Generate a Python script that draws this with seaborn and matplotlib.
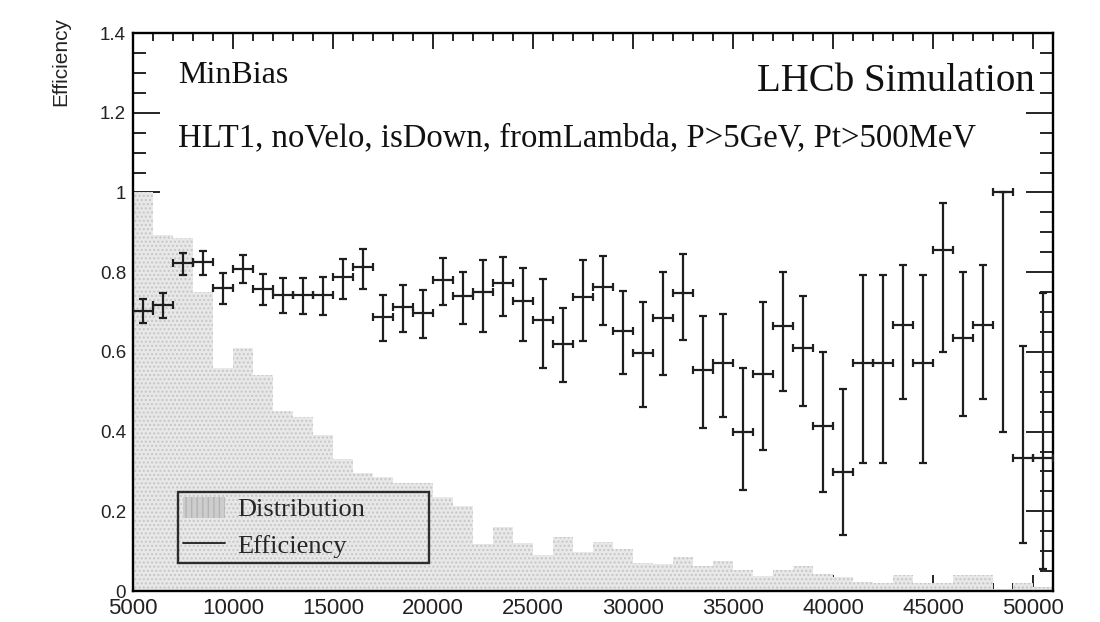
import numpy as np
import pandas as pd
import matplotlib
matplotlib.use("Agg")
import matplotlib.pyplot as plt
from matplotlib.patches import Patch
from matplotlib.lines import Line2D
from matplotlib.ticker import MultipleLocator, FuncFormatter
import seaborn as sns

# Momentum binning (MeV), 1 GeV wide bins
bin_edges = list(range(5000, 51001, 1000))
bin_centers = [e + 500 for e in bin_edges[:-1]]

# Normalised momentum distribution of the selected tracks
distribution = [
    1.000, 0.893, 0.885, 0.751, 0.560, 0.609, 0.542, 0.452, 0.437, 0.391,
    0.330, 0.295, 0.285, 0.270, 0.270, 0.235, 0.213, 0.117, 0.161, 0.121,
    0.090, 0.136, 0.099, 0.124, 0.105, 0.071, 0.068, 0.086, 0.063, 0.075,
    0.053, 0.038, 0.053, 0.063, 0.042, 0.034, 0.023, 0.020, 0.040, 0.020,
    0.020, 0.040, 0.040, 0.005, 0.020, 0.010,
]

# Efficiency per bin with lower / upper bounds of the uncertainty interval
efficiency = [
    0.703, 0.717, 0.822, 0.825, 0.759, 0.809, 0.757, 0.743, 0.743, 0.743,
    0.787, 0.812, 0.687, 0.712, 0.697, 0.780, 0.740, 0.751, 0.774, 0.728,
    0.680, 0.620, 0.738, 0.763, 0.653, 0.598, 0.684, 0.748, 0.554, 0.571,
    0.400, 0.544, 0.665, 0.610, 0.415, 0.298, 0.571, 0.571, 0.667, 0.571,
    0.855, 0.634, 0.667, 1.000, 0.333, 0.333,
]
eff_low = [
    0.673, 0.685, 0.793, 0.794, 0.719, 0.774, 0.717, 0.698, 0.695, 0.692,
    0.732, 0.757, 0.628, 0.649, 0.636, 0.717, 0.670, 0.649, 0.691, 0.627,
    0.559, 0.525, 0.628, 0.667, 0.544, 0.462, 0.543, 0.630, 0.410, 0.437,
    0.253, 0.355, 0.503, 0.465, 0.249, 0.140, 0.322, 0.322, 0.481, 0.322,
    0.600, 0.440, 0.481, 0.398, 0.121, 0.055,
]
eff_high = [
    0.732, 0.748, 0.847, 0.853, 0.797, 0.842, 0.795, 0.785, 0.785, 0.787,
    0.832, 0.857, 0.743, 0.768, 0.755, 0.835, 0.801, 0.830, 0.839, 0.810,
    0.782, 0.709, 0.830, 0.841, 0.753, 0.724, 0.801, 0.845, 0.691, 0.694,
    0.560, 0.724, 0.801, 0.741, 0.599, 0.507, 0.793, 0.793, 0.818, 0.793,
    0.974, 0.800, 0.818, 1.000, 0.615, 0.748,
]

title_left = "MinBias"
title_right = "LHCb Simulation"
selection = "HLT1, noVelo, isDown, fromLambda, P>5GeV, Pt>500MeV"

sns.set_theme(style="ticks")
plt.rcParams["font.family"] = ["Liberation Sans", "DejaVu Sans"]
plt.rcParams["hatch.linewidth"] = 1.0

hist_face = "#e8e8e8"
hist_hatch = "#c6c6c6"
ink = "#1e1e1e"

fig = plt.figure(figsize=(11, 6.22), dpi=100)
ax = fig.add_axes([133 / 1100, 31 / 622, 920 / 1100, 558 / 622])

hist_df = pd.DataFrame({"p": bin_centers, "w": distribution})
sns.histplot(
    data=hist_df, x="p", weights="w", bins=bin_edges, ax=ax,
    element="bars", fill=True, color=hist_face,
    alpha=1.0, linewidth=0, zorder=1,
)
for bar in ax.patches:
    bar.set_hatch("....")
    bar.set_edgecolor(hist_hatch)
    bar.set_linewidth(0)

eff = np.asarray(efficiency)
yerr = np.vstack([eff - np.asarray(eff_low), np.asarray(eff_high) - eff])
ax.errorbar(
    bin_centers, eff, yerr=yerr, xerr=500, fmt="none",
    ecolor=ink, elinewidth=1.6, capsize=3.2, capthick=1.6, zorder=3,
)

ax.set_xlim(5000, 51000)
ax.set_ylim(0, 1.4)
ax.set_xlabel("")
ax.set_ylabel("")

ax.xaxis.set_major_locator(MultipleLocator(5000))
ax.xaxis.set_minor_locator(MultipleLocator(1000))
ax.yaxis.set_major_locator(MultipleLocator(0.2))
ax.yaxis.set_minor_locator(MultipleLocator(0.05))
ax.yaxis.set_major_formatter(FuncFormatter(lambda v, _: f"{v:g}"))
ax.xaxis.set_major_formatter(FuncFormatter(lambda v, _: f"{v:.0f}"))

for side in ax.spines.values():
    side.set_visible(True)
    side.set_linewidth(1.7)
    side.set_color("black")

ax.tick_params(axis="x", which="both", direction="in", top=True, bottom=True,
               width=1.2, color="black", labelsize=16, pad=5, labelcolor="#222")
ax.tick_params(axis="x", which="major", length=11.5)
ax.tick_params(axis="x", which="minor", length=5.8)
ax.tick_params(axis="y", which="both", direction="in", left=True, right=True,
               width=1.2, color="black", labelsize=13.5, pad=5, labelcolor="#222")
ax.tick_params(axis="y", which="major", length=19.4)
ax.tick_params(axis="y", which="minor", length=9.4)

fig.text(61 / 1100, 1 - 62 / 622, "Efficiency", rotation=90, ha="center",
         va="center", fontsize=15, color="#222")

serif = ["Liberation Serif", "DejaVu Serif"]
ax.text(0.0489, 0.9099, title_left, transform=ax.transAxes, ha="left",
        va="baseline", fontsize=23, family=serif, color="#111")
ax.text(0.0489, 0.7962, selection, transform=ax.transAxes, ha="left",
        va="baseline", fontsize=23.6, family=serif, color="#111")
ax.text(0.9804, 0.896, title_right, transform=ax.transAxes, ha="right",
        va="baseline", fontsize=28, family=serif, color="#111")

handles = [
    Patch(facecolor="#cdcdcd", edgecolor="#b4b4b4", hatch="|||", linewidth=0),
    Line2D([], [], color=ink, linewidth=1.3),
]
leg = ax.legend(
    handles, ["Distribution", "Efficiency"],
    loc="lower left", bbox_to_anchor=(0.0489, 0.0502, 0.2728, 0.129),
    mode="expand", borderaxespad=0, fancybox=False, frameon=True,
    prop={"family": serif, "size": 19}, handlelength=1.6, handleheight=0.83,
    handletextpad=0.45, borderpad=0.2, labelspacing=0.45,
)
frame = leg.get_frame()
frame.set_facecolor("none")
frame.set_edgecolor("black")
frame.set_linewidth(1.7)

fig.savefig("out.png", dpi=100)
